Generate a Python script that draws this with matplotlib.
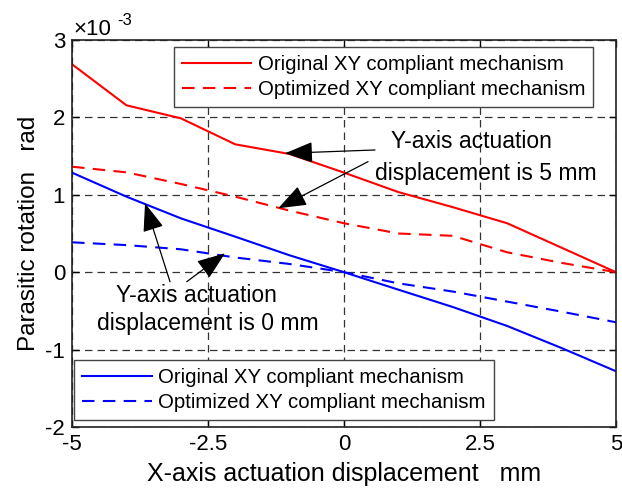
import matplotlib
matplotlib.use('Agg')
import matplotlib.pyplot as plt

plt.rcParams['font.family'] = ['Liberation Sans', 'DejaVu Sans']
plt.rcParams['axes.unicode_minus'] = False

# X-axis actuation displacement (mm)
x_disp = [-5, -4, -3, -2, -1, 0, 1, 2, 3, 4, 5]

# parasitic rotation, unit 1e-3 rad
# Y-axis actuation displacement is 5 mm
orig_y5 = [2.686, 2.156, 1.988, 1.652, 1.527, 1.286, 1.035, 0.84, 0.632, 0.316, 0.0]
opt_y5 = [1.363, 1.29, 1.14, 0.976, 0.795, 0.632, 0.50, 0.47, 0.257, 0.12, 0.0]
# Y-axis actuation displacement is 0 mm
orig_y0 = [1.286, 0.976, 0.696, 0.459, 0.218, 0.0, -0.226, -0.45, -0.695, -0.98, -1.28]
opt_y0 = [0.386, 0.35, 0.296, 0.19, 0.106, 0.0, -0.144, -0.25, -0.38, -0.51, -0.647]

x_ticks = [-5, -2.5, 0, 2.5, 5]
y_ticks = [-2, -1, 0, 1, 2, 3]
legend_labels = ['Original XY compliant mechanism', 'Optimized XY compliant mechanism']

scale = 1e-3

fig = plt.figure(figsize=(6.22, 4.96), dpi=100)
ax = fig.add_axes([0.1158, 0.1391, 0.8746, 0.7803])

dash = (0, (6, 4))
l1, = ax.plot(x_disp, [v * scale for v in orig_y5], color='red', lw=1.5)
l2, = ax.plot(x_disp, [v * scale for v in opt_y5], color='red', lw=1.5, linestyle=dash)
l3, = ax.plot(x_disp, [v * scale for v in orig_y0], color='blue', lw=1.5)
l4, = ax.plot(x_disp, [v * scale for v in opt_y0], color='blue', lw=1.5, linestyle=dash)

ax.set_xlim(-5, 5)
ax.set_ylim(-2e-3, 3e-3)
ax.set_xticks(x_ticks)
ax.set_xticklabels([f'{t:g}' for t in x_ticks])
ax.set_yticks([v * scale for v in y_ticks])
ax.set_yticklabels([f'{t:g}' for t in y_ticks])

# multiplier above the axes (MATLAB style)
ax.text(0.002, 1.013, '×10', transform=ax.transAxes, fontsize=16, ha='left', va='baseline')
ax.text(0.083, 1.039, '-3', transform=ax.transAxes, fontsize=12, ha='left', va='baseline')

ax.grid(True, color='#333333', linestyle=(0, (6, 4)), lw=0.9)
ax.tick_params(direction='in', top=True, right=True, labelsize=16, length=5, width=1, pad=5)
for s in ax.spines.values():
    s.set_linewidth(1.2)
    s.set_color('#222222')

ax.set_xlabel('X-axis actuation displacement   mm', fontsize=18, labelpad=5)
ax.set_ylabel('Parasitic rotation   rad', fontsize=17.5, labelpad=4)

# annotations
arr = dict(arrowstyle='-|>,head_length=0.8,head_width=0.3', color='black', lw=0.9,
           mutation_scale=22, shrinkA=0, shrinkB=0)
ax.text(0.858, 1.601e-3, 'Y-axis actuation', fontsize=16.5, ha='left', va='baseline')
ax.text(0.570, 1.191e-3, 'displacement is 5 mm', fontsize=16.5, ha='left', va='baseline')
ax.annotate('', xy=(-1.085, 1.536e-3), xytext=(0.57, 1.579e-3), arrowprops=arr)
ax.annotate('', xy=(-1.208, 0.826e-3), xytext=(0.441, 1.428e-3), arrowprops=arr)

ax.text(-4.197, -0.381e-3, 'Y-axis actuation', fontsize=16.5, ha='left', va='baseline')
ax.text(-4.546, -0.747e-3, 'displacement is 0 mm', fontsize=16.5, ha='left', va='baseline')
ax.annotate('', xy=(-3.658, 0.89e-3), xytext=(-3.199, -0.123e-3), arrowprops=arr)
ax.annotate('', xy=(-2.188, 0.244e-3), xytext=(-2.892, -0.123e-3), arrowprops=arr)

leg_kw = dict(fontsize=14.7, fancybox=False, framealpha=1, edgecolor='#444444',
              handlelength=3.4, handletextpad=0.3, borderaxespad=0, labelspacing=0.3,
              borderpad=0.4)
leg1 = ax.legend([l1, l2], legend_labels, loc='upper right', bbox_to_anchor=(0.958, 0.983), **leg_kw)
leg1.get_frame().set_linewidth(1.0)
ax.add_artist(leg1)
leg2 = ax.legend([l3, l4], legend_labels, loc='lower left', bbox_to_anchor=(0.004, 0.018), **leg_kw)
leg2.get_frame().set_linewidth(1.0)

fig.savefig('out.png', dpi=100)
